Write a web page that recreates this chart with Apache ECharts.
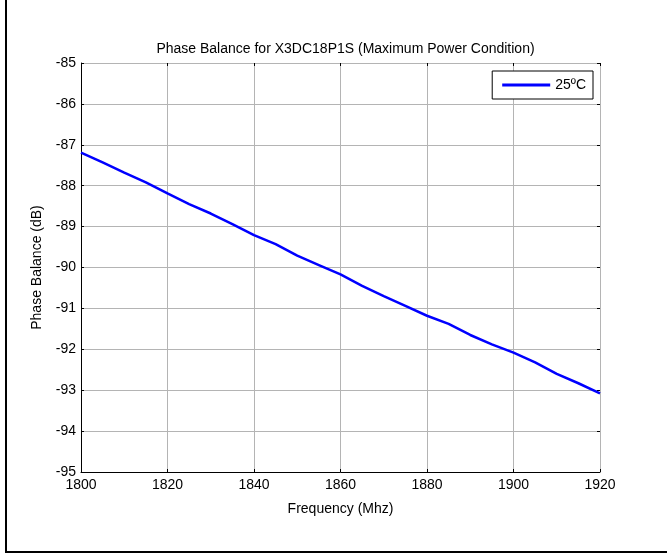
<!DOCTYPE html>
<html>
<head>
<meta charset="utf-8">
<script src="https://cdn.jsdelivr.net/npm/echarts@6/dist/echarts.min.js"></script>
<style>
html,body{margin:0;padding:0;background:#fff;}
#frame{position:absolute;left:5px;top:-5px;width:700px;height:558px;border-left:2px solid #000;border-bottom:2px solid #000;box-sizing:border-box;}
#c{position:absolute;left:0;top:0;width:667px;height:554px;}
</style>
</head>
<body>
<div id="frame"></div>
<div id="c"></div>
<script>
var titleText = 'Phase Balance for X3DC18P1S (Maximum Power Condition)';
var xName = 'Frequency (Mhz)';
var yName = 'Phase Balance (dB)';
var seriesName = '25ºC';
var freq = [1800,1805,1810,1815,1820,1825,1830,1835,1840,1845,1850,1855,1860,1865,1870,1875,1880,1885,1890,1895,1900,1905,1910,1915,1920];
var phase = [-87.19,-87.43,-87.68,-87.92,-88.19,-88.45,-88.68,-88.94,-89.21,-89.43,-89.71,-89.94,-90.17,-90.45,-90.70,-90.94,-91.18,-91.38,-91.65,-91.88,-92.08,-92.32,-92.60,-92.83,-93.08];

var font = 'Liberation Sans, Arial, sans-serif';
var chart = echarts.init(document.getElementById('c'), null, {renderer:'canvas'});
var data = freq.map(function(f,i){return [f, phase[i]];});
var gridLine = {show:true, lineStyle:{color:'#b4b4b4', width:1, type:'solid'}};
var tick = {show:true, inside:true, length:3, lineStyle:{color:'#000', width:1}};
chart.setOption({
  animation:false,
  backgroundColor:'transparent',
  title:{text:titleText, left:340.5, textAlign:'center', top:37,
    textStyle:{fontFamily:font, fontSize:14, fontWeight:'normal', color:'#000'}},
  legend:{show:true, right:74, top:71, orient:'vertical',
    borderColor:'#000', borderWidth:1, backgroundColor:'#fff', borderRadius:0,
    padding:[7,7,7,10], itemWidth:48, itemHeight:3, itemGap:0,
    icon:'rect',
    textStyle:{fontFamily:font, fontSize:14, color:'#000', padding:[0,0,0,0]},
    data:[{name:seriesName, icon:'rect'}]},
  grid:{left:81, top:63, width:519, height:409, containLabel:false},
  xAxis:[{
    type:'value', min:1800, max:1920, interval:20, position:'bottom',
    name:xName, nameLocation:'middle', nameGap:30,
    nameTextStyle:{fontFamily:font, fontSize:14, color:'#000'},
    axisLine:{show:true, onZero:false, lineStyle:{color:'#000', width:1}},
    axisTick:tick, splitLine:gridLine,
    axisLabel:{fontFamily:font, fontSize:14, color:'#000', margin:6, formatter:function(v){return String(v);}}
  },{
    type:'value', min:1800, max:1920, interval:20, position:'top',
    axisLine:{show:false}, axisTick:tick, splitLine:{show:false}, axisLabel:{show:false}
  }],
  yAxis:[{
    type:'value', min:-95, max:-85, interval:1, position:'left',
    name:yName, nameLocation:'middle', nameGap:37,
    nameTextStyle:{fontFamily:font, fontSize:14, color:'#000'},
    axisLine:{show:true, onZero:false, lineStyle:{color:'#000', width:1}},
    axisTick:tick, splitLine:gridLine,
    axisLabel:{fontFamily:font, fontSize:14, color:'#000', margin:5}
  },{
    type:'value', min:-95, max:-85, interval:1, position:'right',
    axisLine:{show:false}, axisTick:tick, splitLine:{show:false}, axisLabel:{show:false}
  }],
  series:[{
    name:seriesName, type:'line', data:data, xAxisIndex:0, yAxisIndex:0,
    showSymbol:false, symbol:'none', smooth:false,
    lineStyle:{color:'#0000ff', width:2.5}, itemStyle:{color:'#0000ff'}
  }]
});
</script>
</body>
</html>
